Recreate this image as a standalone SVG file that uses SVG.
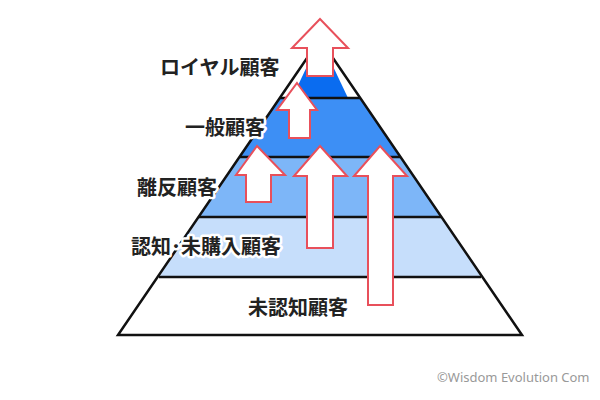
<svg xmlns="http://www.w3.org/2000/svg" width="600" height="400" viewBox="0 0 600 400">
<style>
.l{font-family:"Noto Sans CJK JP","Noto Sans",sans-serif;font-weight:bold;font-size:20px;fill:#222;stroke:#fff;stroke-width:5px;paint-order:stroke;stroke-linejoin:round}
.a{fill:#fff;stroke:#e8505b;stroke-width:2}
.e{stroke:#111;stroke-width:2.5;fill:none}
</style>
<rect width="600" height="400" fill="#fff"/>
<g id="pyramid">
<polygon points="320,39 348,98 292,98" fill="#0a6cf0"/>
<polygon points="280,98 360,98 400,157 240,157" fill="#3d8ff5"/>
<polygon points="240,157 400,157 441,217 199,217" fill="#7db6f8"/>
<polygon points="199,217 441,217 481,277 159,277" fill="#c6defb"/>
<polygon points="159,277 481,277 522,335 118,335" fill="#fff"/>
<g class="e">
<line x1="280" y1="98" x2="360" y2="98"/>
<line x1="240" y1="157" x2="400" y2="157"/>
<line x1="199" y1="217" x2="441" y2="217"/>
<line x1="159" y1="277" x2="481" y2="277"/>
<polygon points="320,39 522,335 118,335" stroke-linejoin="miter"/>
</g>
</g>
<g id="arrows">
<polygon class="a" points="320,19 348,48 333,48 333,76 307,76 307,48 292,48"/>
<polygon class="a" points="297,83 317,110 310,110 310,138 289,138 289,110 277,110"/>
<polygon class="a" points="257,146 285,175 271,175 271,202 246,202 246,175 236,175"/>
<polygon class="a" points="320,146 347,176 333,176 333,248 307,248 307,176 294,176"/>
<polygon class="a" points="380,146 407,176 393,176 393,305 368,305 368,176 354,176"/>
</g>
<g id="labels">
<text class="l" x="160" y="75">ロイヤル顧客</text>
<text class="l" x="185" y="135">一般顧客</text>
<text class="l" x="137" y="195">離反顧客</text>
<text class="l" x="131" y="254">認知･未購入顧客</text>
<text class="l" x="248" y="315">未認知顧客</text>
</g>
<text x="437" y="382" font-family="Noto Sans,sans-serif" font-size="13" fill="#999">©Wisdom Evolution Com</text>
</svg>
